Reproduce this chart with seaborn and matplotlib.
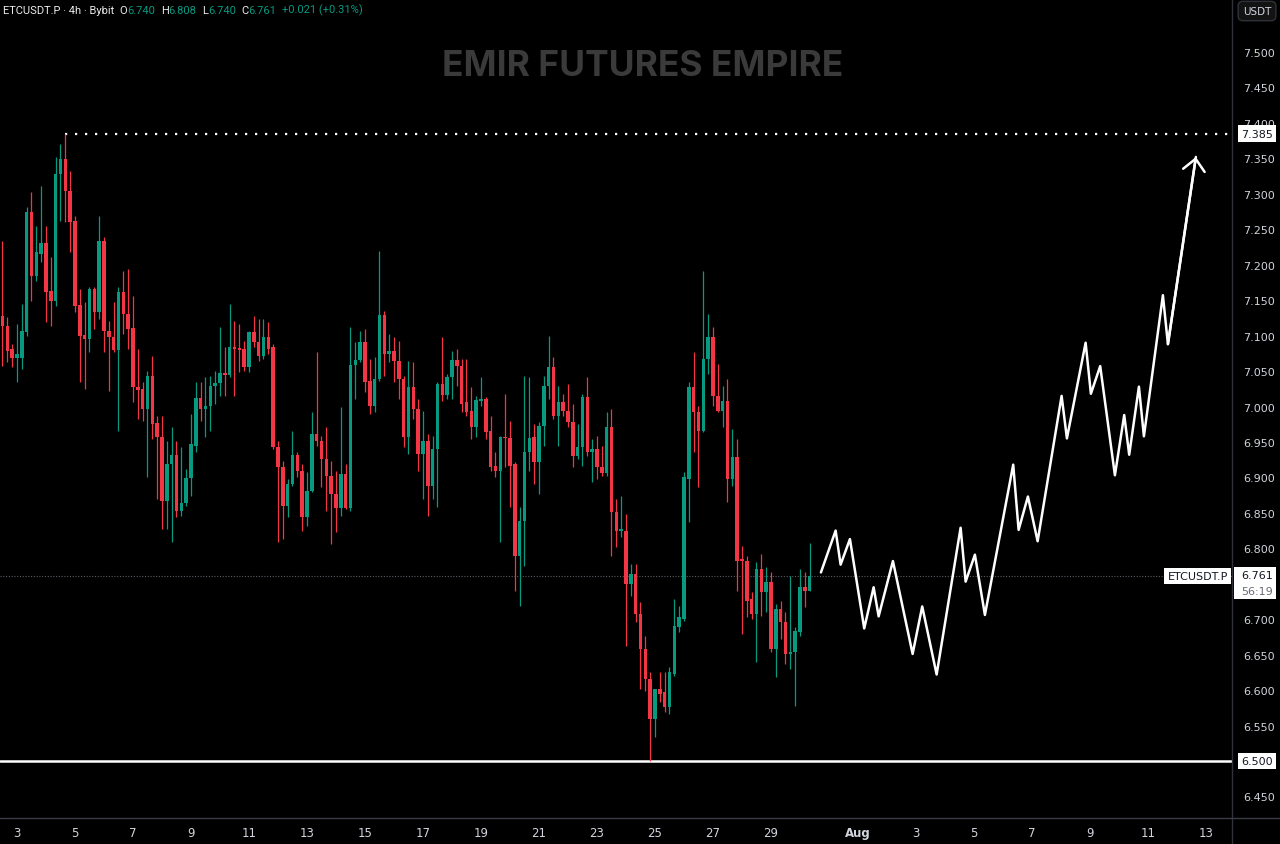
import numpy as np
import pandas as pd
import seaborn as sns
import matplotlib
matplotlib.use("Agg")
import matplotlib.pyplot as plt
import matplotlib.dates as mdates
from matplotlib.lines import Line2D
from matplotlib.patches import Rectangle

# 4h candles, first one at 2024-07-02 12:00
first_candle = "2024-07-02 12:00"
opens = [7.128, 7.113, 7.081, 7.068, 7.068, 7.105, 7.274, 7.184, 7.215, 7.231,
         7.163, 7.149, 7.328, 7.349, 7.304, 7.262, 7.143, 7.101, 7.095, 7.166,
         7.133, 7.233, 7.107, 7.098, 7.080, 7.162, 7.130, 7.111, 7.028, 7.025,
         6.997, 7.043, 6.977, 6.957, 6.867, 6.919, 6.932, 6.853, 6.864, 6.899,
         6.944, 7.012, 6.997, 7.001, 7.029, 7.033, 7.047, 7.045, 7.084, 7.083,
         7.081, 7.056, 7.105, 7.091, 7.071, 7.098, 7.084, 6.943, 6.915, 6.860,
         6.891, 6.932, 6.909, 6.844, 6.881, 6.961, 6.951, 6.926, 6.902, 6.877,
         6.857, 6.905, 6.857, 7.059, 7.066, 7.091, 7.036, 7.001, 7.039, 7.129,
         7.074, 7.078, 7.064, 7.039, 6.957, 7.028, 6.997, 6.933, 6.951, 6.888,
         6.940, 7.032, 7.016, 7.042, 7.066, 7.057, 7.006, 6.994, 6.971, 7.008,
         7.011, 6.965, 6.916, 6.909, 6.957, 6.956, 6.919, 6.789, 6.839, 6.936,
         6.957, 6.922, 6.973, 7.029, 7.056, 6.987, 7.006, 6.994, 6.978, 6.930,
         6.943, 7.013, 6.936, 6.940, 6.915, 6.906, 6.971, 6.851, 6.824, 6.824,
         6.750, 6.764, 6.707, 6.658, 6.616, 6.559, 6.602, 6.597, 6.576, 6.623,
         6.689, 6.700, 6.898, 7.028, 6.992, 6.965, 7.067, 7.098, 7.015, 6.994,
         7.008, 6.898, 6.929, 6.785, 6.782, 6.729, 6.707, 6.771, 6.738, 6.752,
         6.658, 6.714, 6.696, 6.651, 6.654, 6.682, 6.745, 6.740]
highs = [7.233, 7.126, 7.088, 7.116, 7.145, 7.281, 7.303, 7.255, 7.311, 7.255,
         7.211, 7.352, 7.370, 7.385, 7.332, 7.269, 7.166, 7.147, 7.169, 7.169,
         7.269, 7.239, 7.121, 7.147, 7.169, 7.191, 7.194, 7.156, 7.081, 7.035,
         7.050, 7.071, 6.987, 6.987, 6.951, 6.971, 6.951, 6.943, 6.912, 6.990,
         7.035, 7.035, 7.042, 7.043, 7.050, 7.112, 7.084, 7.145, 7.121, 7.116,
         7.092, 7.107, 7.128, 7.123, 7.123, 7.119, 7.088, 6.951, 6.923, 6.898,
         6.965, 6.936, 6.919, 6.908, 6.992, 7.077, 6.958, 6.971, 6.923, 6.909,
         7.000, 6.919, 7.112, 7.091, 7.107, 7.109, 7.067, 7.070, 7.219, 7.135,
         7.102, 7.098, 7.092, 7.043, 7.064, 7.063, 7.011, 6.994, 6.961, 6.958,
         7.035, 7.098, 7.046, 7.078, 7.081, 7.067, 7.067, 7.028, 7.015, 7.042,
         7.013, 6.987, 6.936, 6.958, 7.018, 6.980, 6.922, 6.858, 7.043, 7.042,
         6.975, 6.978, 7.043, 7.100, 7.070, 7.029, 7.018, 7.032, 7.004, 6.975,
         7.018, 7.042, 6.954, 6.958, 6.944, 6.992, 6.997, 6.870, 6.874, 6.848,
         6.778, 6.778, 6.724, 6.676, 6.626, 6.602, 6.626, 6.626, 6.633, 6.729,
         6.719, 6.908, 7.035, 7.077, 7.001, 7.191, 7.130, 7.112, 7.060, 7.029,
         7.039, 6.968, 6.954, 6.803, 6.789, 6.738, 6.781, 6.792, 6.774, 6.767,
         6.722, 6.726, 6.710, 6.761, 6.689, 6.771, 6.767, 6.808]
lows = [7.057, 7.063, 7.056, 7.035, 7.053, 7.100, 7.149, 7.177, 7.204, 7.119,
        7.113, 7.142, 7.262, 7.260, 7.218, 7.133, 7.035, 7.025, 7.077, 7.109,
        7.123, 7.077, 7.022, 7.077, 6.965, 7.102, 7.081, 7.006, 6.982, 6.980,
        6.901, 6.954, 6.870, 6.827, 6.827, 6.809, 6.844, 6.845, 6.860, 6.874,
        6.936, 6.980, 6.957, 6.965, 7.004, 7.015, 7.015, 7.042, 7.015, 7.049,
        7.050, 7.049, 7.084, 7.064, 7.067, 7.074, 6.940, 6.809, 6.813, 6.844,
        6.888, 6.901, 6.824, 6.832, 6.879, 6.944, 6.887, 6.853, 6.806, 6.823,
        6.845, 6.855, 6.853, 7.011, 7.063, 7.020, 6.990, 6.992, 7.036, 7.043,
        7.063, 7.035, 7.011, 6.943, 6.933, 6.982, 6.909, 6.870, 6.845, 6.870,
        6.858, 7.008, 7.011, 7.011, 7.029, 6.992, 6.987, 6.954, 6.957, 7.001,
        6.954, 6.909, 6.901, 6.809, 6.915, 6.858, 6.740, 6.719, 6.775, 6.909,
        6.891, 6.877, 6.944, 7.011, 6.982, 6.944, 6.987, 6.971, 6.915, 6.926,
        6.916, 6.930, 6.894, 6.898, 6.902, 6.902, 6.789, 6.802, 6.816, 6.662,
        6.733, 6.696, 6.602, 6.599, 6.500, 6.534, 6.583, 6.569, 6.566, 6.620,
        6.682, 6.698, 6.837, 6.936, 6.887, 6.964, 7.046, 7.001, 6.992, 6.971,
        6.865, 6.888, 6.740, 6.679, 6.703, 6.700, 6.640, 6.705, 6.710, 6.654,
        6.619, 6.672, 6.637, 6.630, 6.578, 6.676, 6.717, 6.740]
closes = [7.113, 7.078, 7.068, 7.074, 7.107, 7.274, 7.184, 7.218, 7.231, 7.162,
          7.149, 7.328, 7.349, 7.304, 7.260, 7.142, 7.100, 7.095, 7.166, 7.133,
          7.233, 7.107, 7.098, 7.080, 7.162, 7.130, 7.109, 7.028, 7.023, 6.997,
          7.043, 6.975, 6.957, 6.867, 6.919, 6.932, 6.853, 6.864, 6.899, 6.947,
          7.012, 6.997, 7.001, 7.029, 7.033, 7.047, 7.045, 7.084, 7.081, 7.080,
          7.056, 7.105, 7.091, 7.071, 7.098, 7.081, 6.943, 6.915, 6.860, 6.891,
          6.932, 6.909, 6.844, 6.881, 6.961, 6.951, 6.926, 6.902, 6.877, 6.857,
          6.905, 6.857, 7.059, 7.066, 7.091, 7.035, 7.001, 7.039, 7.129, 7.074,
          7.078, 7.064, 7.039, 6.957, 7.028, 6.997, 6.933, 6.951, 6.888, 6.940,
          7.032, 7.016, 7.042, 7.066, 7.057, 7.004, 6.992, 6.971, 7.009, 7.011,
          6.964, 6.915, 6.909, 6.957, 6.956, 6.916, 6.789, 6.839, 6.936, 6.956,
          6.922, 6.973, 7.029, 7.056, 6.987, 7.006, 6.994, 6.978, 6.930, 6.943,
          7.013, 6.936, 6.940, 6.915, 6.906, 6.971, 6.851, 6.824, 6.827, 6.750,
          6.764, 6.707, 6.658, 6.616, 6.559, 6.602, 6.595, 6.576, 6.626, 6.690,
          6.703, 6.901, 7.028, 6.992, 6.965, 7.067, 7.098, 7.015, 6.994, 7.008,
          6.898, 6.929, 6.782, 6.782, 6.726, 6.707, 6.771, 6.738, 6.752, 6.658,
          6.714, 6.696, 6.651, 6.654, 6.683, 6.745, 6.740, 6.761]

# hand-drawn projection, days since 2024-07-01
forecast_day = [29.724, 30.231, 30.403, 30.724, 31.217, 31.541, 31.714, 32.207,
                32.886, 33.217, 33.714, 34.541, 34.714, 35.034, 35.379, 36.355,
                36.541, 36.862, 37.197, 38.024, 38.207, 38.852, 39.034, 39.355,
                39.862, 40.183, 40.355, 40.690, 40.862, 41.517, 41.690, 42.655]
forecast_price = [6.766, 6.825, 6.777, 6.813, 6.687, 6.745, 6.704, 6.782,
                  6.651, 6.718, 6.622, 6.829, 6.753, 6.791, 6.706, 6.918,
                  6.826, 6.873, 6.810, 7.015, 6.955, 7.090, 7.018, 7.057,
                  6.903, 6.988, 6.932, 7.028, 6.958, 7.157, 7.088, 7.352]

resistance = 7.385
support = 6.500
last_price = 6.761
countdown = "56:19"

price_ticks = [6.45, 6.50, 6.55, 6.60, 6.65, 6.70, 6.75, 6.80, 6.85, 6.90, 6.95,
               7.00, 7.05, 7.10, 7.15, 7.20, 7.25, 7.30, 7.35, 7.40, 7.45, 7.50]
xtick_dates = ["2024-07-03", "2024-07-05", "2024-07-07", "2024-07-09", "2024-07-11",
               "2024-07-13", "2024-07-15", "2024-07-17", "2024-07-19", "2024-07-21",
               "2024-07-23", "2024-07-25", "2024-07-27", "2024-07-29", "2024-08-01",
               "2024-08-03", "2024-08-05", "2024-08-07", "2024-08-09", "2024-08-11",
               "2024-08-13"]
xtick_labels = ["3", "5", "7", "9", "11", "13", "15", "17", "19", "21", "23", "25",
                "27", "29", "Aug", "3", "5", "7", "9", "11", "13"]

header = [("ETCUSDT.P · 4h · Bybit", "w", 0), ("O", "w", 4), ("6.740", "g", 0),
          ("H", "w", 4), ("6.808", "g", 0), ("L", "w", 4), ("6.740", "g", 0),
          ("C", "w", 4), ("6.761", "g", 0), ("+0.021 (+0.31%)", "g", 4)]

GREEN = "#089981"
RED = "#f23645"
TXT = "#d1d4dc"

sns.set_theme(style="dark")
plt.rcParams["font.family"] = ["DejaVu Sans"]

df = pd.DataFrame({"time": pd.date_range(first_candle, periods=len(opens), freq="4h"),
                   "open": opens, "high": highs, "low": lows, "close": closes})
df["x"] = mdates.date2num(df["time"])
df["color"] = np.where(df["close"] >= df["open"], GREEN, RED)

base = mdates.date2num(pd.Timestamp("2024-07-01"))
fc = pd.DataFrame({"x": base + np.array(forecast_day), "price": forecast_price})

fig = plt.figure(figsize=(12.8, 8.45), dpi=100, facecolor="black")
ax = fig.add_axes([0, 26 / 845, 1232 / 1280, 819 / 845])
ax.set_facecolor("black")
ax.grid(False)

# candles
ax.vlines(df["x"], df["low"], df["high"], colors=df["color"], lw=0.9, zorder=3)
body_lo = df[["open", "close"]].min(axis=1)
body_h = (df["open"] - df["close"]).abs().clip(lower=0.0016)
ax.bar(df["x"], body_h, bottom=body_lo, width=0.12, color=df["color"], lw=0, zorder=4)

x_left = base + 1.414
x_right = base + 43.9

# levels
ax.hlines(resistance, df["x"].iloc[13], x_right, colors="white", lw=1.6,
          linestyles=(0, (1, 3.5)), zorder=2)
ax.axhline(support, color="white", lw=1.8, zorder=2)
ax.axhline(last_price, color="#5a5d66", lw=0.8, ls=(0, (1, 1.5)), zorder=1)

# projected path
sns.lineplot(data=fc, x="x", y="price", sort=False, color="white", lw=1.8,
             ax=ax, zorder=5)
ax.annotate("", xy=(fc["x"].iloc[-1], fc["price"].iloc[-1]),
            xytext=(fc["x"].iloc[-2], fc["price"].iloc[-2]),
            arrowprops=dict(arrowstyle="->,head_length=0.28,head_width=0.26",
                            color="white", lw=1.8, mutation_scale=30,
                            shrinkA=0, shrinkB=0), zorder=5)

ax.set_xlim(x_left, x_right)
ax.set_ylim(6.4196, 7.5748)
ax.set_xlabel("")
ax.set_ylabel("")

ax.set_xticks(mdates.date2num(pd.to_datetime(xtick_dates)))
ax.set_xticklabels(xtick_labels)
ax.tick_params(axis="x", colors=TXT, length=0, pad=6, labelsize=8.5)
for t in ax.get_xticklabels():
    if t.get_text() == "Aug":
        t.set_fontweight("bold")

ax.yaxis.tick_right()
ax.set_yticks(price_ticks)
# the 6.750 label sits under the last-price tag
ax.set_yticklabels(["" if abs(p - last_price) < 0.02 else f"{p:.3f}" for p in price_ticks])
ax.tick_params(axis="y", colors=TXT, length=0, pad=8, labelsize=8)
for s in ax.spines.values():
    s.set_visible(False)

# panel separators
fig.add_artist(Line2D([1232 / 1280] * 2, [0, 1], color="#2f323a", lw=1,
                      transform=fig.transFigure))
fig.add_artist(Line2D([0, 1], [26 / 845] * 2, color="#3a3d45", lw=1,
                      transform=fig.transFigure))

# price tags on the scale
tag = dict(boxstyle="square,pad=0.3", fc="white", ec="none")
for val in [resistance, support]:
    ax.annotate(f"{val:.3f}", xy=(1, val), xycoords=("axes fraction", "data"),
                xytext=(6.5, 0), textcoords="offset points", ha="left", va="center",
                fontsize=8, color="#131722", bbox=tag, annotation_clip=False, zorder=10)

# last price + countdown share one white box
ax.add_patch(Rectangle((1234 / 1280, 1 - 600 / 845), 42 / 1280, 32 / 845,
                       transform=fig.transFigure, fc="white", ec="none",
                       clip_on=False, zorder=9))
ax.annotate(f"{last_price:.3f}", xy=(1, last_price), xycoords=("axes fraction", "data"),
            xytext=(6.5, 0.5), textcoords="offset points", ha="left", va="center",
            fontsize=8, color="#131722", annotation_clip=False, zorder=10)
ax.annotate(countdown, xy=(1, last_price), xycoords=("axes fraction", "data"),
            xytext=(6.5, -10.5), textcoords="offset points", ha="left", va="center",
            fontsize=8, color="#6a6d78", annotation_clip=False, zorder=10)
ax.annotate("ETCUSDT.P", xy=(1, last_price), xycoords=("axes fraction", "data"),
            xytext=(-3, 0), textcoords="offset points", ha="right", va="center",
            fontsize=8, color="#131722", bbox=tag, annotation_clip=False, zorder=10)

fig.text(1257 / 1280, 1 - 12 / 845, "USDT", ha="center", va="center", fontsize=7.5,
         color=TXT, bbox=dict(boxstyle="round,pad=0.45", fc="#131313", ec="#2f323a"))

# watermark
ax.text(0.522, 1 - 67 / 819, "EMIR FUTURES EMPIRE", transform=ax.transAxes,
        ha="center", va="center", fontsize=25.5, fontweight="bold",
        family=["Inter", "DejaVu Sans"], color="#3a3a3a", zorder=0)

# symbol header
cols = {"w": "#ececec", "g": GREEN}
prev = fig.text(3 / 1280, 1 - 11 / 845, header[0][0], ha="left", va="center",
                fontsize=8, color=cols[header[0][1]], family=["Roboto", "DejaVu Sans"])
for txt, c, gap in header[1:]:
    prev = ax.annotate(txt, xy=(1, 0), xycoords=prev, xytext=(gap, 0),
                       textcoords="offset points", ha="left", va="bottom",
                       fontsize=8, color=cols[c], family=["Roboto", "DejaVu Sans"],
                       annotation_clip=False)

fig.savefig("out.png", dpi=100, facecolor="black")
